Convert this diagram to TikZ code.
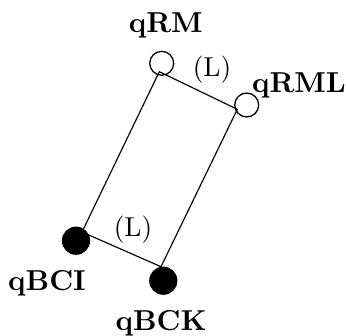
\documentclass[tikz,border=0pt]{standalone}
\begin{document}
\begin{tikzpicture}[x=0.347pt,y=-0.347pt,
  opennode/.style={circle,draw,line width=0.45pt,minimum size=8.3pt,inner sep=0pt},
  fillnode/.style={circle,fill=black,minimum size=9.8pt,inner sep=0pt},
  boldlbl/.style={anchor=base,inner sep=0pt,font=\bfseries},
  edgelbl/.style={inner sep=0pt,font=\fontsize{9.5}{11}\selectfont},
  link/.style={line width=0.4pt}]
\useasboundingbox (0,0) rectangle (346,335);
\node[opennode] (rm) at (161.7,63.3) {};
\node[opennode] (rml) at (246.7,105) {};
\node[fillnode] (bci) at (76,240.7) {};
\node[fillnode] (bck) at (163.3,280.7) {};
\coordinate (a) at (159.3,71.7);
\coordinate (b) at (237.3,109.3);
\coordinate (c) at (161,266.7);
\coordinate (d) at (82,232);
\draw[link] (a) -- (b) -- (c) -- (d) -- cycle;
\node[boldlbl] (lrm) at (165.7,33) {qRM};
\node[boldlbl] (lrml) at (299,92) {qRML};
\node[boldlbl] (lbci) at (47,290) {qBCI};
\node[boldlbl] (lbck) at (161,330) {qBCK};
\node[edgelbl] (l1) at (212,70) {(L)};
\node[edgelbl] (l2) at (133,230) {(L)};
\end{tikzpicture}
\end{document}
